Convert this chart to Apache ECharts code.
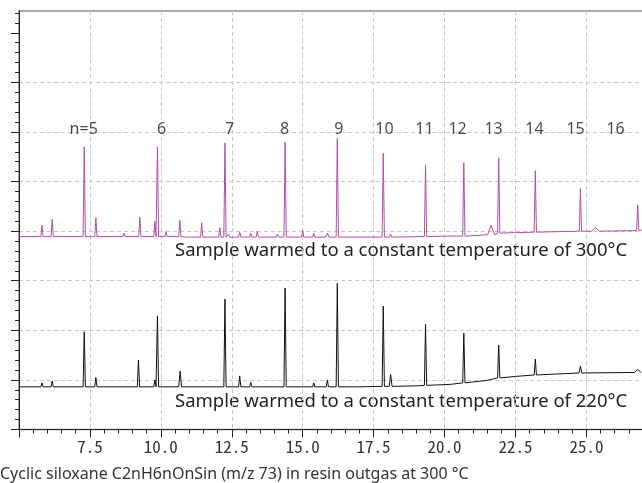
<!DOCTYPE html>
<html>
<head>
<meta charset="utf-8">
<script src="https://cdn.jsdelivr.net/npm/echarts@6/dist/echarts.min.js"></script>
<style>
  html, body { margin: 0; padding: 0; background: #fff; }
  #chart { width: 642px; height: 483px; }
</style>
</head>
<body>
<div id="chart"></div>
<script>
// retention time (min), apex and foot intensity of each peak, peak half width
const purpleTimes = [5.81, 6.17, 7.30, 7.71, 8.70, 9.26, 9.79, 9.88, 10.18, 10.67, 10.94, 11.44, 11.87, 12.08, 12.26, 12.39, 12.78, 13.17, 13.40, 14.11, 14.38, 15.00, 15.39, 15.87, 16.22, 17.84, 18.10, 19.33, 20.68, 21.64, 21.91, 23.20, 24.79, 25.32, 26.81];
const purpleApex = [4.12, 4.24, 5.70, 4.27, 3.96, 4.28, 4.20, 5.70, 3.99, 4.22, 3.92, 4.17, 3.92, 4.07, 5.78, 3.94, 3.98, 3.96, 4.00, 3.94, 5.80, 4.02, 3.96, 3.96, 5.87, 5.57, 3.94, 5.33, 5.38, 4.12, 5.48, 5.22, 4.86, 4.07, 4.53];
const purpleBase = [3.89, 3.89, 3.89, 3.89, 3.89, 3.89, 3.89, 3.89, 3.89, 3.89, 3.88, 3.88, 3.88, 3.88, 3.88, 3.88, 3.88, 3.88, 3.88, 3.88, 3.88, 3.88, 3.88, 3.88, 3.88, 3.88, 3.88, 3.89, 3.90, 3.93, 3.96, 3.98, 4.00, 4.00, 4.01];
const purpleWidth = [0.04, 0.04, 0.04, 0.04, 0.04, 0.04, 0.04, 0.04, 0.04, 0.04, 0.04, 0.04, 0.04, 0.04, 0.04, 0.04, 0.04, 0.04, 0.04, 0.04, 0.04, 0.04, 0.04, 0.06, 0.04, 0.04, 0.04, 0.04, 0.04, 0.12, 0.04, 0.04, 0.04, 0.14, 0.04];
const purpleDrift = [[5.0, 3.89], [20.0, 3.90], [21.3, 3.92], [22.5, 3.97], [24.0, 3.99], [26.95, 4.02]];

const blackTimes = [5.81, 6.17, 7.30, 7.71, 9.21, 9.79, 9.88, 10.68, 12.26, 12.78, 13.17, 13.40, 14.11, 14.38, 15.39, 15.87, 16.22, 17.84, 18.10, 19.33, 20.68, 21.91, 23.20, 24.79, 26.81];
const blackApex = [0.94, 0.98, 1.97, 1.05, 1.40, 1.00, 2.29, 1.18, 2.63, 1.08, 0.95, 0.90, 0.90, 2.85, 0.94, 1.00, 2.95, 2.49, 1.11, 2.12, 1.94, 1.70, 1.42, 1.28, 1.21];
const blackBase = [0.86, 0.86, 0.86, 0.86, 0.86, 0.86, 0.86, 0.86, 0.86, 0.86, 0.86, 0.86, 0.86, 0.86, 0.86, 0.86, 0.86, 0.87, 0.87, 0.89, 0.94, 1.04, 1.10, 1.14, 1.15];
const blackWidth = [0.04, 0.04, 0.04, 0.04, 0.04, 0.04, 0.04, 0.05, 0.04, 0.04, 0.04, 0.04, 0.04, 0.04, 0.04, 0.04, 0.04, 0.04, 0.05, 0.04, 0.04, 0.04, 0.04, 0.05, 0.12];
const blackDrift = [[5.0, 0.86], [17.0, 0.86], [19.0, 0.88], [20.2, 0.91], [21.5, 0.99], [22.5, 1.07], [24.0, 1.12], [26.95, 1.15]];

// n labels above the peaks
const nLabels = ['n=5', '6', '7', '8', '9', '10', '11', '12', '13', '14', '15', '16'];
const nLabelTimes = [7.28, 10.03, 12.42, 14.36, 16.27, 17.88, 19.29, 20.46, 21.73, 23.17, 24.62, 26.03];
const nLabelLevel = 6.05;

const xTicks = [7.5, 10.0, 12.5, 15.0, 17.5, 20.0, 22.5, 25.0];

function buildTrace(times, apex, base, widths, drift) {
    const pts = drift.map((d) => [d[0], d[1]]);
    times.forEach((t, i) => {
        pts.push([t - widths[i], base[i]], [t, apex[i]], [t + widths[i], base[i]]);
    });
    pts.sort((a, b) => a[0] - b[0]);
    return pts;
}

const yMajor = [];
const yMinor = [];
for (let i = 0; i <= 42; i++) {
    const v = Math.round(i * 2) / 10;
    if (i % 5 === 0) yMajor.push(v);
    else yMinor.push(v);
}

const chart = echarts.init(document.getElementById('chart'), null, { renderer: 'canvas' });
const textFont = "'Noto Sans', 'Open Sans', sans-serif";
const gridDash = { color: '#c8c8c8', type: [4, 3], width: 1 };

chart.setOption({
    animation: false,
    grid: {
        left: 19, top: 11, width: 638.3, height: 418.5,
        outerBoundsMode: 'none', containLabel: false,
        show: true, borderColor: '#8c8c8c', borderWidth: 1.5, backgroundColor: 'transparent',
    },
    xAxis: {
        type: 'value',
        min: 5,
        max: 27.5,
        interval: 2.5,
        axisLine: { onZero: false, lineStyle: { color: '#222', width: 1 } },
        axisTick: { length: 8, lineStyle: { color: '#222' } },
        minorTick: { show: true, splitNumber: 5, length: 4, lineStyle: { color: '#222' } },
        splitLine: { show: true, showMinLine: false, lineStyle: gridDash },
        axisLabel: {
            showMinLabel: false,
            margin: 9,
            color: '#333',
            fontSize: 17,
            fontFamily: "'Noto Sans Mono CJK JP', 'Noto Sans CJK JP', 'DejaVu Sans Mono', monospace",
            formatter: (v) => (xTicks.includes(v) ? v.toFixed(1) : ''),
        },
    },
    yAxis: [
        {
            type: 'value',
            min: 0,
            max: 8.44,
            interval: 1,
            axisLine: { show: true, onZero: false, lineStyle: { color: '#222', width: 1 } },
            axisTick: { show: true, length: 8, customValues: yMajor, lineStyle: { color: '#222' } },
            axisLabel: { show: false },
            splitLine: { show: true, showMinLine: false, showMaxLine: false, lineStyle: gridDash },
        },
        {
            type: 'value',
            position: 'left',
            min: 0,
            max: 8.44,
            interval: 1,
            axisLine: { show: false, onZero: false },
            axisTick: { show: true, length: 4, customValues: yMinor, lineStyle: { color: '#222' } },
            axisLabel: { show: false },
            splitLine: { show: false },
        },
    ],
    series: [
        {
            type: 'line',
            data: buildTrace(purpleTimes, purpleApex, purpleBase, purpleWidth, purpleDrift),
            showSymbol: false,
            lineStyle: { color: '#b04fa8', width: 1 },
        },
        {
            type: 'line',
            data: buildTrace(blackTimes, blackApex, blackBase, blackWidth, blackDrift),
            showSymbol: false,
            lineStyle: { color: '#111', width: 1 },
        },
        {
            type: 'scatter',
            symbolSize: 0,
            data: nLabelTimes.map((t, i) => ({ value: [t, nLabelLevel], name: nLabels[i] })),
            label: {
                show: true,
                position: 'inside',
                formatter: (p) => p.name,
                color: '#1a1a1a',
                fontSize: 16,
                fontFamily: textFont,
            },
        },
    ],
    graphic: [
        {
            type: 'text',
            style: {
                x: 175, y: 251, text: 'Sample warmed to a constant temperature of 300°C',
                font: "18.5px 'Noto Sans', 'Open Sans', sans-serif", fill: '#222', verticalAlign: 'middle',
            },
        },
        {
            type: 'text',
            style: {
                x: 175, y: 402, text: 'Sample warmed to a constant temperature of 220°C',
                font: "18.5px 'Noto Sans', 'Open Sans', sans-serif", fill: '#222', verticalAlign: 'middle',
            },
        },
        {
            type: 'text',
            style: {
                x: 0, y: 474, text: 'Cyclic siloxane C2nH6nOnSin (m/z 73) in resin outgas at 300 °C',
                font: "16px 'Noto Sans', 'Open Sans', sans-serif", fill: '#333', verticalAlign: 'middle',
            },
        },
    ],
});
</script>
</body>
</html>
